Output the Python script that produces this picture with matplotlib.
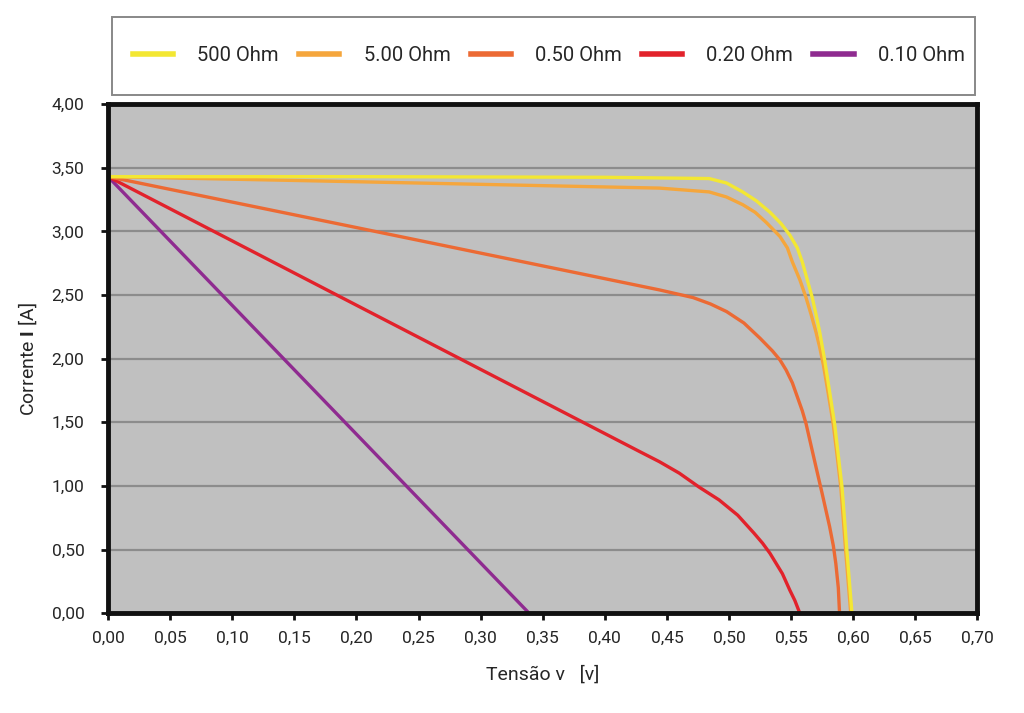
import matplotlib
matplotlib.use("Agg")
import matplotlib.pyplot as plt
from matplotlib.patches import Rectangle
from matplotlib.ticker import FuncFormatter, MultipleLocator

plt.rcParams['font.family'] = ['Roboto', 'DejaVu Sans']
plt.rcParams['mathtext.fontset'] = 'custom'
plt.rcParams['mathtext.bf'] = 'Roboto:bold'
plt.rcParams['mathtext.rm'] = 'Roboto'

# ==============================
# DATA
# ==============================
labels = ["500 Ohm", "5.00 Ohm", "0.50 Ohm", "0.20 Ohm", "0.10 Ohm"]
colors = ["#f3e733", "#f5a63c", "#ec6a34", "#e2222b", "#8f2b90"]

v_500 = [0.0, 0.20, 0.40, 0.484, 0.498, 0.511, 0.522, 0.533, 0.542, 0.549,
         0.555, 0.559, 0.563, 0.567, 0.570, 0.573, 0.577, 0.581, 0.585,
         0.588, 0.591, 0.593, 0.595, 0.597, 0.599]
i_500 = [3.43, 3.43, 3.425, 3.415, 3.38, 3.31, 3.24, 3.15, 3.06, 2.97,
         2.87, 2.76, 2.62, 2.48, 2.35, 2.21, 1.99, 1.74, 1.49,
         1.24, 0.99, 0.74, 0.48, 0.24, 0.0]

v_5 = [0.0, 0.20, 0.444, 0.484, 0.498, 0.511, 0.521, 0.530, 0.541, 0.547,
       0.551, 0.557, 0.562, 0.566, 0.570, 0.573, 0.576, 0.580, 0.584,
       0.587, 0.590, 0.592, 0.594, 0.596, 0.598]
i_5 = [3.43, 3.39, 3.34, 3.31, 3.27, 3.21, 3.15, 3.07, 2.96, 2.87,
       2.76, 2.62, 2.48, 2.35, 2.21, 2.09, 1.95, 1.72, 1.48,
       1.24, 0.99, 0.74, 0.48, 0.24, 0.0]

v_05 = [0.0, 0.20, 0.444, 0.471, 0.485, 0.498, 0.512, 0.525, 0.535, 0.541,
        0.546, 0.551, 0.555, 0.559, 0.562, 0.566, 0.570, 0.575, 0.578, 0.581,
        0.584, 0.586, 0.588, 0.589]
i_05 = [3.43, 3.03, 2.54, 2.48, 2.43, 2.37, 2.28, 2.16, 2.06, 1.99,
        1.91, 1.81, 1.70, 1.59, 1.49, 1.32, 1.15, 0.94, 0.81, 0.68,
        0.53, 0.39, 0.20, 0.0]

v_02 = [0.0, 0.20, 0.428, 0.444, 0.460, 0.476, 0.492, 0.507, 0.520, 0.527,
        0.533, 0.543, 0.549, 0.553, 0.557]
i_02 = [3.43, 2.42, 1.27, 1.19, 1.10, 0.99, 0.89, 0.77, 0.63, 0.55,
        0.47, 0.31, 0.18, 0.10, 0.0]

v_01 = [0.0, 0.339]
i_01 = [3.43, 0.0]

series = [(v_500, i_500), (v_5, i_5), (v_05, i_05), (v_02, i_02), (v_01, i_01)]

TEXT = "#262626"

# ==============================
# PLOT
# ==============================
fig = plt.figure(figsize=(10.24, 7.13), dpi=100)
ax = fig.add_axes([0.1055, 0.140, 0.849, 0.714])
ax.set_facecolor("#c0c0c0")

ax.yaxis.grid(True, color="#8c8c8c", linewidth=1.6)
ax.set_axisbelow(True)

handles = []
# draw in reverse so yellow ends on top
for (v, i), lab, col in reversed(list(zip(series, labels, colors))):
    h, = ax.plot(v, i, color=col, linewidth=2.4, label=lab,
                 solid_joinstyle='round')
    handles.append(h)
handles = handles[::-1]

ax.set_xlim(0, 0.70)
ax.set_ylim(0, 4.0)
ax.xaxis.set_major_locator(MultipleLocator(0.05))
ax.yaxis.set_major_locator(MultipleLocator(0.5))
comma = FuncFormatter(lambda x, p: f"{x:.2f}".replace(".", ","))
ax.xaxis.set_major_formatter(comma)
ax.yaxis.set_major_formatter(comma)

for s in ax.spines.values():
    s.set_color("#111111")
    s.set_linewidth(3.5)

ax.tick_params(axis='both', direction='out', length=5, width=2,
               color="#111111", labelsize=12.5, labelcolor=TEXT)
ax.tick_params(axis='x', pad=8)
ax.tick_params(axis='y', pad=12)

ax.set_xlabel("Tensão v   [v]", fontsize=14, color=TEXT, labelpad=14)
ax.set_ylabel(r"Corrente $\mathbf{I}$ [A]", fontsize=14, color=TEXT, labelpad=9)

# legend box sits above the plot, separate from the axes
box = Rectangle((0.109, 0.867), 0.843, 0.109, transform=fig.transFigure,
                facecolor="white", edgecolor="#888888", linewidth=1.4)
fig.patches.append(box)

leg = fig.legend(handles, labels, loc='center', ncol=5, mode='expand',
                 bbox_to_anchor=(0.122, 0.867, 0.828, 0.109),
                 frameon=False, fontsize=14.5, handlelength=2.0,
                 handletextpad=1.2, borderaxespad=0.0)
for line in leg.get_lines():
    line.set_linewidth(4)
for t in leg.get_texts():
    t.set_color(TEXT)

fig.savefig("out.png", dpi=100)
